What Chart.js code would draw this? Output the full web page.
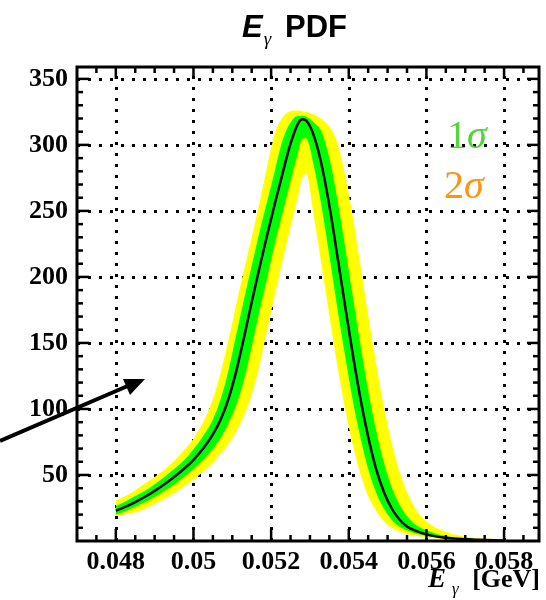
<!DOCTYPE html>
<html>
<head>
<meta charset="utf-8">
<script src="https://cdn.jsdelivr.net/npm/chart.js@4.4.1/dist/chart.umd.min.js"></script>
<style>
  html, body { margin: 0; padding: 0; background: #fff; }
  canvas { display: block; }
</style>
</head>
<body>
<canvas id="pdf" width="546" height="600"></canvas>
<script>
// E_gamma grid (GeV)
const EG = [0.048, 0.04825, 0.0485, 0.04875, 0.049, 0.04925, 0.0495, 0.04975, 0.05, 0.05025, 0.0505,
  0.0507, 0.0509, 0.0511, 0.0513, 0.0515, 0.0517, 0.0519, 0.0521, 0.0523, 0.0525, 0.0527, 0.0528,
  0.0529, 0.0531, 0.0533, 0.0535, 0.0537, 0.0539, 0.0541, 0.0543, 0.0545, 0.0547, 0.0549, 0.0551, 0.0553, 0.0555,
  0.05575, 0.056, 0.05625, 0.0565, 0.05675, 0.057, 0.05725, 0.0575, 0.05775, 0.058];

// central PDF
const CENTRAL = [23, 26, 29.5, 33.5, 38, 43, 48.5, 54.5, 61.5, 70, 80.7,
  92, 107.5, 128.5, 154, 181, 207, 232, 256, 279, 301, 316.5, 319.5,
  318.5, 307, 285, 254, 217, 179, 142, 108, 79, 55, 37.5, 25, 16.5, 11,
  7.5, 5, 3.5, 2.5, 1.8, 1.3, 1, 0.7, 0.5, 0.4];

// 1 sigma band
const GREEN_HI = [26.5, 30, 34, 38, 43, 48.5, 54.5, 61, 69.5, 79.5, 92,
  107.5, 129, 156, 183, 208.5, 234, 257.5, 281, 304, 317, 322, 322,
  321.5, 317, 310, 290, 260, 224, 186, 149, 114, 84.5, 60, 41, 28, 18.8,
  11.7, 8.1, 5.5, 3.8, 2.8, 2, 1.5, 1.1, 0.75, 0.55];
const GREEN_LO = [20, 22.5, 25.9, 29.4, 33.4, 37.8, 42.8, 48.3, 54.3, 61.3, 69.7,
  78, 89, 103, 122, 147, 174, 199.6, 225.6, 248.9, 272.4, 294.8, 304.5,
  305, 284, 253, 216, 177.5, 141, 107, 78.4, 54.5, 37, 24.8, 16.3, 10.9, 8.1,
  5.4, 3.8, 2.7, 1.95, 1.4, 1.05, 0.75, 0.55, 0.42, 0.35];

// 2 sigma band
const YELLOW_HI = [30.5, 34, 38.5, 43.5, 48.5, 54, 60.5, 68.5, 77.5, 90, 107.5,
  127.5, 152, 179, 205, 230, 256, 284, 309, 321, 325.5, 326, 325.5,
  325, 323, 319.5, 314, 302, 278, 246, 209, 171, 135, 102.5, 75, 53, 37,
  23, 15, 10, 7, 4.7, 3.5, 2.5, 1.9, 1.4, 1.0];
const YELLOW_LO = [19, 20.3, 21.8, 24.5, 28, 31.8, 36.2, 41.2, 46.6, 52.5, 59.3,
  66, 73.5, 83, 95, 111, 133, 160, 187, 213, 238, 262, 275,
  278, 246, 209, 171, 134, 101, 73.5, 51, 34, 23, 15, 10, 7.3, 5.2,
  3.7, 2.6, 1.9, 1.35, 1.05, 0.8, 0.6, 0.45, 0.35, 0.3];

const X_TICKS = [0.048, 0.05, 0.052, 0.054, 0.056, 0.058];
const Y_TICKS = [50, 100, 150, 200, 250, 300, 350];
const X_RANGE = [0.047, 0.0589];
const Y_RANGE = [0, 359];

const pts = ys => EG.map((x, i) => ({ x, y: ys[i] }));
const band = (ys, color, fill, order) => ({
  data: pts(ys), fill, backgroundColor: color, borderWidth: 0, pointRadius: 0,
  cubicInterpolationMode: 'monotone', order
});

const LABEL_FONT = { family: "'Liberation Serif'", size: 26, weight: 'bold' };

function seg(ctx, x1, y1, x2, y2) {
  ctx.beginPath(); ctx.moveTo(x1, y1); ctx.lineTo(x2, y2); ctx.stroke();
}

// ROOT-like frame: dotted grid, ticks on four sides, texts, arrow
const rootFrame = {
  id: 'rootFrame',
  beforeDatasetsDraw(chart) {
    const { ctx, chartArea: a, scales: { x, y } } = chart;
    ctx.save();
    ctx.strokeStyle = '#000';
    ctx.lineWidth = 3;
    ctx.setLineDash([3, 8]);
    X_TICKS.forEach(v => { const p = Math.round(x.getPixelForValue(v)) + 0.5; seg(ctx, p, a.bottom, p, a.top); });
    Y_TICKS.forEach(v => { const p = Math.round(y.getPixelForValue(v)) + 0.5; seg(ctx, a.left, p, a.right, p); });
    ctx.restore();
  },
  afterDatasetsDraw(chart) {
    const { ctx, chartArea: a, scales: { x, y } } = chart;
    ctx.save();
    ctx.strokeStyle = '#000';
    ctx.lineWidth = 2.5;
    // x ticks, every 0.0005
    for (let i = 0; ; i++) {
      const v = 0.0475 + i * 0.0005;
      if (v > X_RANGE[1]) break;
      const major = X_TICKS.some(t => Math.abs(t - v) < 1e-7);
      const len = major ? 12 : 6;
      const p = x.getPixelForValue(v);
      seg(ctx, p, a.bottom, p, a.bottom - len);
      seg(ctx, p, a.top, p, a.top + len);
    }
    // y ticks, every 10
    for (let v = 10; v <= Y_RANGE[1]; v += 10) {
      const major = v % 50 === 0;
      const len = major ? 12 : 6;
      const p = y.getPixelForValue(v);
      seg(ctx, a.left, p, a.left + len, p);
      seg(ctx, a.right, p, a.right - len, p);
    }
    ctx.lineWidth = 3;
    ctx.strokeRect(a.left, a.top, a.right - a.left, a.bottom - a.top);
    ctx.restore();
  },
  afterDraw(chart) {
    const { ctx } = chart;
    ctx.save();
    ctx.fillStyle = '#000';
    ctx.textAlign = 'left';
    ctx.textBaseline = 'alphabetic';

    // title
    let tx = 242;
    ctx.font = 'italic bold 31px "Liberation Sans"';
    ctx.fillText('E', tx, 37);
    tx += ctx.measureText('E').width + 1;
    ctx.font = 'italic 19px "Liberation Serif"';
    ctx.fillText('γ', tx, 45);
    ctx.font = 'bold 31px "Liberation Sans"';
    ctx.fillText('PDF', 285, 37);

    // x axis title
    ctx.font = 'bold 26px "Liberation Serif"';
    ctx.textAlign = 'right';
    ctx.fillText('[GeV]', 540, 587);
    ctx.textAlign = 'left';
    ctx.font = 'italic bold 27px "Liberation Serif"';
    ctx.fillText('E', 428, 587);
    ctx.font = 'italic 17px "Liberation Serif"';
    ctx.fillText('γ', 452, 594);

    // sigma labels
    const sig = (d, col, x0, base) => {
      ctx.fillStyle = col;
      ctx.font = '40px "Liberation Serif"';
      ctx.fillText(d, x0, base);
      const w = ctx.measureText(d).width;
      ctx.font = 'italic 40px "Liberation Serif"';
      ctx.fillText('σ', x0 + w, base);
    };
    sig('1', '#55d43c', 447, 148);
    sig('2', '#ff9312', 444, 198);

    // arrow
    ctx.fillStyle = '#000';
    ctx.strokeStyle = '#000';
    ctx.lineWidth = 4;
    seg(ctx, 0, 441, 130, 385);
    ctx.beginPath();
    ctx.moveTo(145, 379);
    ctx.lineTo(123, 379);
    ctx.lineTo(130, 395);
    ctx.closePath();
    ctx.fill();
    ctx.restore();
  }
};

new Chart(document.getElementById('pdf'), {
  type: 'line',
  data: {
    datasets: [
      { data: pts(CENTRAL), borderColor: '#000', borderWidth: 2.5, pointRadius: 0, fill: false,
        cubicInterpolationMode: 'monotone', order: 0 },
      band(GREEN_HI, '#00ff00', '+1', 1),
      band(GREEN_LO, '#00ff00', false, 1),
      band(YELLOW_HI, '#ffff00', '+1', 2),
      band(YELLOW_LO, '#ffff00', false, 2)
    ]
  },
  options: {
    responsive: false,
    animation: false,
    layout: { padding: { top: 67, right: 7, left: 0, bottom: 0 } },
    plugins: { legend: { display: false }, tooltip: { enabled: false }, title: { display: false } },
    scales: {
      x: {
        type: 'linear', min: X_RANGE[0], max: X_RANGE[1],
        afterBuildTicks: s => { s.ticks = X_TICKS.map(value => ({ value })); },
        afterFit: s => { s.height = 59; },
        grid: { display: false, drawTicks: false },
        border: { display: false },
        ticks: { autoSkip: false, maxRotation: 0, padding: 6, color: '#000', font: LABEL_FONT, callback: v => String(v) }
      },
      y: {
        type: 'linear', min: Y_RANGE[0], max: Y_RANGE[1],
        afterBuildTicks: s => { s.ticks = Y_TICKS.map(value => ({ value })); },
        afterFit: s => { s.width = 77; },
        grid: { display: false, drawTicks: false },
        border: { display: false },
        ticks: { padding: 9, color: '#000', font: LABEL_FONT, callback: v => String(v) }
      }
    }
  },
  plugins: [rootFrame]
});
</script>
</body>
</html>
